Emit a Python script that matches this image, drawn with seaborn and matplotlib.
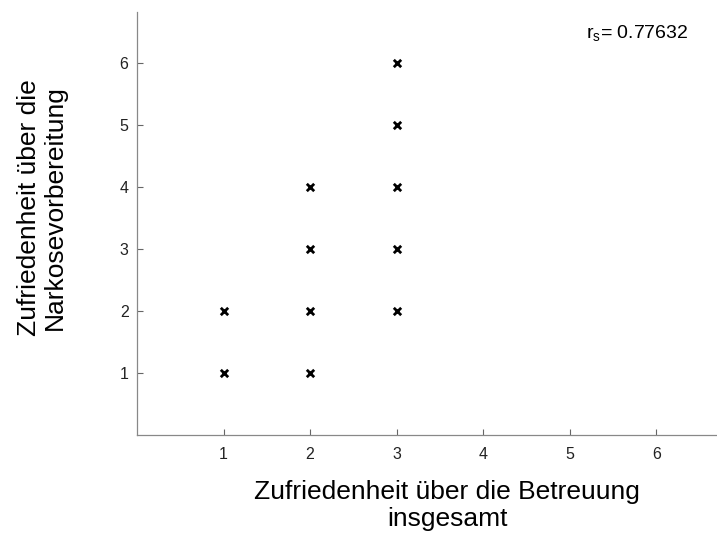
import matplotlib
matplotlib.use("Agg")
import matplotlib.pyplot as plt
import seaborn as sns
import pandas as pd

betreuung = [1, 1, 2, 2, 2, 2, 3, 3, 3, 3, 3]
narkose = [1, 2, 1, 2, 3, 4, 2, 3, 4, 5, 6]
ticks = [1, 2, 3, 4, 5, 6]
rs_text = "r$_\\mathregular{s}$= 0.77632"

sns.set_style("white")
plt.rcParams['font.family'] = ['Liberation Sans', 'DejaVu Sans']

df = pd.DataFrame({"x": betreuung, "y": narkose})
fig = plt.figure(figsize=(7.17, 5.33), dpi=100)
ax = fig.add_axes([0.191, 0.184, 0.809, 0.793])
sns.scatterplot(data=df, x="x", y="y", ax=ax, marker="x", color="black",
                s=28, linewidth=2.0)
ax.set_xlim(0, 6.7)
ax.set_ylim(0, 6.82)
ax.set_xticks(ticks)
ax.set_yticks(ticks)
ax.set_xticklabels([str(t) for t in ticks])
ax.set_yticklabels([str(t) for t in ticks])
ax.tick_params(bottom=True, left=True, direction="in", length=4, width=0.8,
               color="#666666", labelsize=11.5, labelcolor="#222222")
ax.tick_params(axis="x", pad=9)
ax.tick_params(axis="y", pad=6)
for s in ["top", "right"]:
    ax.spines[s].set_visible(False)
for s in ["left", "bottom"]:
    ax.spines[s].set_color("#888888")
    ax.spines[s].set_linewidth(0.9)
ax.set_xlabel("Zufriedenheit über die Betreuung\ninsgesamt", fontsize=19,
              labelpad=13, linespacing=1.12, color="black")
ax.set_ylabel("Zufriedenheit über die\nNarkosevorbereitung", fontsize=19,
              labelpad=38, linespacing=1.12, color="black")
ax.xaxis.label.set_x(0.535)
ax.yaxis.label.set_y(0.537)
ax.text(0.95, 0.95, rs_text, transform=ax.transAxes, fontsize=14, ha="right",
        va="center", color="black")
fig.savefig("out.png", dpi=100)
